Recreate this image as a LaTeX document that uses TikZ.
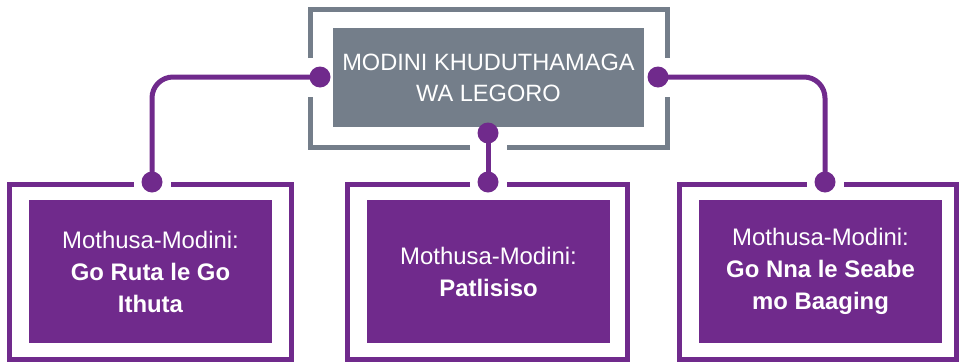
\documentclass[tikz,border=0pt]{standalone}
\usepackage{fontspec}
\setmainfont{Liberation Sans}
\usepackage{xcolor}
\usepackage{tikz}

\definecolor{plum}{RGB}{112,42,140}
\definecolor{slate}{RGB}{116,126,138}

\tikzset{
    headbox/.style={fill=slate, text=white, inner sep=0pt,
        minimum width=311pt, minimum height=99pt, align=center,
        font=\fontsize{23.6}{31}\selectfont},
    subbox/.style={fill=plum, text=white, inner sep=0pt,
        minimum width=243pt, minimum height=143pt, align=center,
        font=\fontsize{23.9}{32}\selectfont},
    frame/.style={line width=5pt},
    dot/.style={circle, fill=plum, inner sep=0pt, minimum size=21pt},
    link/.style={plum, line width=5pt, rounded corners=21pt}
}

\begin{document}
\begin{tikzpicture}[x=1pt, y=-1pt]

    \useasboundingbox (0,0) rectangle (959,362);

    % Top box with its open frame
    \node[headbox] (head) at (488.5,77.5) {MODINI KHUDUTHAMAGA\\WA LEGORO};
    \draw[frame, slate] (310,58) -- (310,9) -- (667,9) -- (667,58);
    \draw[frame, slate] (667,97) -- (667,147) -- (507,147);
    \draw[frame, slate] (470,147) -- (310,147) -- (310,97);

    % Bottom frames, each open above its dot
    \foreach \l/\r/\g in {9.5/291/152, 347.5/627.5/488.5, 679.5/956.5/825} {
        \draw[frame, plum] (\g-18.5,184.5) -- (\l,184.5) -- (\l,359.5)
            -- (\r,359.5) -- (\r,184.5) -- (\g+18.5,184.5);
    }

    % Bottom boxes
    \node[subbox] (learn) at (150.5,271.5)
        {Mothusa-Modini:\\\textbf{Go Ruta le Go}\\\textbf{Ithuta}};
    \node[subbox] (research) at (488.5,271.5)
        {Mothusa-Modini:\\\textbf{Patlisiso}};
    \node[subbox] (share) at (820.5,271.5)
        {Mothusa-Modini:\\\textbf{Go Nna le Seabe}\\\textbf{mo Baaging}};

    % Dots
    \node[dot] (headL) at (320,77) {};
    \node[dot] (headR) at (658,77) {};
    \node[dot] (headB) at (488,133) {};
    \node[dot] (learnT) at (152,182) {};
    \node[dot] (researchT) at (488,182) {};
    \node[dot] (shareT) at (825,182) {};

    % Links
    \draw[link] (headL.center) -| (learnT.center);
    \draw[link] (headR.center) -| (shareT.center);
    \draw[link] (headB.center) -- (researchT.center);

\end{tikzpicture}
\end{document}
